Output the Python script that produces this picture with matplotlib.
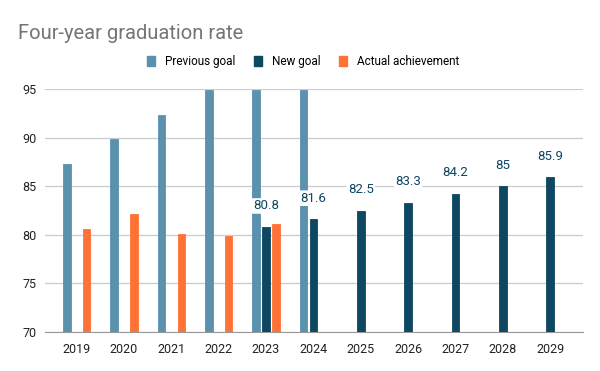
import numpy as np
from matplotlib import pyplot as plt
from matplotlib.patches import Patch

plt.rcParams['font.family'] = ['Roboto', 'DejaVu Sans']

years = ["2019", "2020", "2021", "2022", "2023", "2024",
         "2025", "2026", "2027", "2028", "2029"]
prev_goal = [87.3, 89.9, 92.3, 94.9, 94.9, 94.9, None, None, None, None, None]
new_goal = [None, None, None, None, 80.8, 81.6, 82.5, 83.3, 84.2, 85.0, 85.9]
actual = [80.6, 82.1, 80.1, 79.9, 81.1, None, None, None, None, None, None]
new_labels = ["80.8", "81.6", "82.5", "83.3", "84.2", "85", "85.9"]

c_prev = "#5a92ae"
c_new = "#0d4762"
c_act = "#ff7236"

fig = plt.figure(figsize=(6, 3.71), dpi=100)
ax = fig.add_axes([0.075, 0.105, 0.897, 0.655])

x = np.arange(len(years))
w = 0.16
off = 0.21


def draw(vals, shift, color):
    xs = [xi + shift for xi, v in zip(x, vals) if v is not None]
    hs = [v - 70 for v in vals if v is not None]
    return ax.bar(xs, hs, w, bottom=70, color=color, edgecolor=color,
                  linewidth=0.6, joinstyle="round", zorder=3)


draw(prev_goal, -off, c_prev)
bars_new = draw(new_goal, 0, c_new)
draw(actual, off, c_act)

for b, lab in zip(bars_new, new_labels):
    ax.annotate(lab, (b.get_x() + b.get_width() / 2, b.get_y() + b.get_height()),
                xytext=(0, 10.5), textcoords="offset points", ha="center", va="bottom",
                fontsize=9.5, color=c_new, zorder=5,
                bbox=dict(boxstyle="round,pad=0.1", fc="white", ec="none"))

ax.set_ylim(70, 95)
ax.set_xlim(-0.67, len(years) - 0.3)
ax.set_yticks([70, 75, 80, 85, 90, 95])
ax.set_xticks(x)
ax.set_xticklabels(years)
ax.grid(axis="y", color="#cccccc", linewidth=0.9, zorder=0)
for s in ["top", "right", "left"]:
    ax.spines[s].set_visible(False)
ax.spines["bottom"].set_color("#999999")
ax.tick_params(length=0, labelsize=9, colors="#222222", pad=8)
ax.tick_params(axis="y", pad=6)

fig.text(0.03, 0.91, "Four-year graduation rate", fontsize=14.5, color="#757575",
         va="center", ha="left")

handles = [Patch(color=c_prev), Patch(color=c_new), Patch(color=c_act)]
fig.legend(handles, ["Previous goal", "New goal", "Actual achievement"],
           loc="center", bbox_to_anchor=(0.505, 0.835), ncol=3, frameon=False,
           fontsize=8.5, handlelength=0.7, handleheight=0.9, handletextpad=0.8,
           columnspacing=1.6)

fig.savefig("out.png", dpi=100)
plt.close()
